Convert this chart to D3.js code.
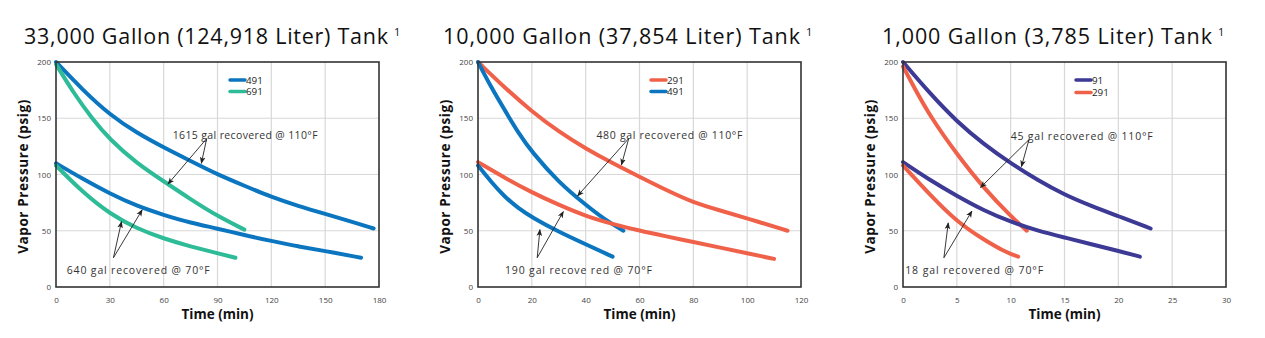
<!DOCTYPE html>
<html>
<head>
<meta charset="utf-8">
<script src="https://cdn.jsdelivr.net/npm/d3@7/dist/d3.min.js"></script>
<style>
  html, body { margin: 0; padding: 0; background: #fff; }
  svg { display: block; }
  text { font-family: "Open Sans", "Noto Sans", sans-serif; }
</style>
</head>
<body>
<svg id="chart" width="1265" height="338"></svg>
<script>
// ---------- DATA ----------
const titles = ["33,000 Gallon (124,918 Liter) Tank", "10,000 Gallon (37,854 Liter) Tank", "1,000 Gallon (3,785 Liter) Tank"];
const xTicks1 = [0, 30, 60, 90, 120, 150, 180];
const xTicks2 = [0, 20, 40, 60, 80, 100, 120];
const xTicks3 = [0, 5, 10, 15, 20, 25, 30];
const yTicks = [0, 50, 100, 150, 200];

// 33,000 gallon tank [time (min), pressure (psig)]
const t33_491_hi = [[0,200],[15,175],[30,153],[45,137],[60,124],[75,112],[90,100],[105,90],[120,80],[135,72],[150,65],[165,58],[177,52]];
const t33_691_hi = [[0,198],[10,172],[20,150],[30,131],[45,110],[60,94],[75,78],[90,63],[105,51]];
const t33_491_lo = [[0,110],[15,96],[30,83],[45,72],[60,64],[75,57],[90,52],[105,46],[120,41],[135,36],[150,32],[170,26]];
const t33_691_lo = [[0,108],[15,84],[30,65],[45,52],[60,43],[75,36],[90,30],[100,26]];

// 10,000 gallon tank
const t10_291_hi = [[0,200],[10,177],[20,156],[30,138],[40,123],[50,110],[60,98],[70,86],[80,75],[90,68],[100,61],[115,50]];
const t10_491_hi = [[0,200],[5,177],[10,157],[15,137],[20,120],[30,93],[40,73],[47,60],[54,50]];
const t10_291_lo = [[0,111],[10,97],[20,84],[30,73],[40,63],[50,56],[60,50],[70,45],[80,40],[90,35],[100,30],[110,25]];
const t10_491_lo = [[0,108],[5,93],[10,80],[15,70],[20,62],[30,49],[40,38],[50,27]];

// 1,000 gallon tank
const t1_91_hi  = [[0,200],[2.5,172],[5,147],[7.5,127],[10,110],[12.5,95],[15,82],[17.5,72],[20,63],[23,52]];
const t1_291_hi = [[0,196],[1,178],[2.5,152],[5,118],[7.5,88],[10,63],[11.5,50]];
const t1_91_lo  = [[0,111],[2.5,95],[5,81],[7.5,68],[10,58],[12.5,50],[15,44],[17.5,38],[20,32],[22,27]];
const t1_291_lo = [[0,108],[2.5,82],[5,58],[7.5,42],[9.5,31],[10.7,27]];

const legend1 = ["491", "691"];
const legend2 = ["291", "491"];
const legend3 = ["91", "291"];

const notes1 = ["1615 gal recovered @ 110°F", "640 gal recovered @ 70°F"];
const notes2 = ["480 gal recovered @ 110°F", "190 gal recove red @ 70°F"];
const notes3 = ["45 gal recovered @ 110°F", "18 gal recovered @ 70°F"];

// ---------- STYLE ----------
const C = { blue: "#0b76bf", green: "#2dbb98", orange: "#f0614a", navy: "#3c3a94" };

const panels = [
  { title: titles[0], xMax: 180, xTicks: xTicks1, left: 56, right: 379, titleX: 24, titleW: 364,
    series: [{d: t33_491_hi, c: C.blue}, {d: t33_691_hi, c: C.green}, {d: t33_491_lo, c: C.blue}, {d: t33_691_lo, c: C.green}],
    legend: [{n: legend1[0], c: C.blue}, {n: legend1[1], c: C.green}], legX: 230, legDy: 11.5,
    notes: [
      { text: notes1[0], w: 145, tx: 65, ty: 135, from: [84, 132], to: [[62.4, 91.5], [81, 110]] },
      { text: notes1[1], w: 143, tx: 6, ty: 15, from: [32, 26], to: [[36.5, 58], [48, 68.5]] }
    ] },
  { title: titles[1], xMax: 120, xTicks: xTicks2, left: 478, right: 801, titleX: 443, titleW: 357,
    series: [{d: t10_291_hi, c: C.orange}, {d: t10_491_hi, c: C.blue}, {d: t10_291_lo, c: C.orange}, {d: t10_491_lo, c: C.blue}],
    legend: [{n: legend2[0], c: C.orange}, {n: legend2[1], c: C.blue}], legX: 651, legDy: 11.5,
    notes: [
      { text: notes2[0], w: 146, tx: 44, ty: 135, from: [56, 132], to: [[37, 81], [53.3, 108.5]] },
      { text: notes2[1], w: 147, tx: 10, ty: 15, from: [22, 26], to: [[23, 51], [31.7, 67]] }
    ] },
  { title: titles[2], xMax: 30, xTicks: xTicks3, left: 903, right: 1226, titleX: 882, titleW: 330,
    series: [{d: t1_91_hi, c: C.navy}, {d: t1_291_hi, c: C.orange}, {d: t1_91_lo, c: C.navy}, {d: t1_291_lo, c: C.orange}],
    legend: [{n: legend3[0], c: C.navy}, {n: legend3[1], c: C.orange}], legX: 1076, legDy: 12.5,
    notes: [
      { text: notes3[0], w: 142, tx: 10, ty: 134, from: [11.7, 131], to: [[7.2, 88.5], [11, 107]] },
      { text: notes3[1], w: 138, tx: 0.2, ty: 15, from: [3.8, 26], to: [[4.2, 57], [6.4, 67.5]] }
    ] }
];

const svg = d3.select("#chart");
const defs = svg.append("defs");
defs.append("marker").attr("id", "arrow").attr("viewBox", "0 0 10 10")
  .attr("refX", 9).attr("refY", 5).attr("markerWidth", 7).attr("markerHeight", 7)
  .attr("markerUnits", "userSpaceOnUse").attr("orient", "auto")
  .append("path").attr("d", "M0,1 L10,5 L0,9 L2.5,5 Z").attr("fill", "#222");

const plotTop = 62, plotBottom = 287;

panels.forEach(p => {
  const x = d3.scaleLinear().domain([0, p.xMax]).range([p.left, p.right]);
  const y = d3.scaleLinear().domain([0, 200]).range([plotBottom, plotTop]);
  const g = svg.append("g");

  // title
  g.append("text").attr("x", p.titleX).attr("y", 44)
    .attr("font-size", 21.5).attr("fill", "#111")
    .attr("textLength", p.titleW).attr("lengthAdjust", "spacing").text(p.title);
  g.append("text").attr("x", p.titleX + p.titleW + 6).attr("y", 36)
    .attr("font-size", 11).attr("fill", "#111").text("1");

  // grid
  g.append("g").selectAll("line").data(p.xTicks.slice(1, -1)).join("line")
    .attr("x1", d => x(d)).attr("x2", d => x(d)).attr("y1", plotTop).attr("y2", plotBottom)
    .attr("stroke", "#d8d8d8").attr("stroke-width", 1.2);
  g.append("g").selectAll("line").data(yTicks.slice(1, -1)).join("line")
    .attr("x1", p.left).attr("x2", p.right).attr("y1", d => y(d)).attr("y2", d => y(d))
    .attr("stroke", "#d8d8d8").attr("stroke-width", 1.2);

  // axes (tick labels)
  const xa = g.append("g").attr("transform", `translate(0,${plotBottom})`)
    .call(d3.axisBottom(x).tickValues(p.xTicks).tickSize(0).tickPadding(10));
  const ya = g.append("g").attr("transform", `translate(${p.left},0)`)
    .call(d3.axisLeft(y).tickValues(yTicks).tickSize(0).tickPadding(5));
  [xa, ya].forEach(a => {
    a.select(".domain").remove();
    a.selectAll("text").attr("font-size", 8).attr("fill", "#444")
      .attr("font-family", "'Open Sans', 'Noto Sans', sans-serif");
  });

  // series
  const line = d3.line().x(d => x(d[0])).y(d => y(d[1])).curve(d3.curveBasis);
  p.series.forEach(s => {
    g.append("path").datum(s.d).attr("d", line).attr("fill", "none")
      .attr("stroke", s.c).attr("stroke-width", 4).attr("stroke-linecap", "round");
  });

  // frame
  g.append("rect").attr("x", p.left).attr("y", plotTop)
    .attr("width", p.right - p.left).attr("height", plotBottom - plotTop)
    .attr("fill", "none").attr("stroke", "#333").attr("stroke-width", 1.6);

  // legend
  p.legend.forEach((l, i) => {
    const ly = 80 + i * p.legDy;
    g.append("line").attr("x1", p.legX).attr("x2", p.legX + 15).attr("y1", ly).attr("y2", ly)
      .attr("stroke", l.c).attr("stroke-width", 3.5).attr("stroke-linecap", "round");
    g.append("text").attr("x", p.legX + 16).attr("y", ly + 3.5)
      .attr("font-size", 9.8).attr("font-family", "Roboto, 'Open Sans', sans-serif")
      .attr("fill", "#222").text(l.n);
  });

  // annotations
  p.notes.forEach(n => {
    g.append("text").attr("x", x(n.tx)).attr("y", y(n.ty) + 4)
      .attr("font-size", 10.5).attr("fill", "#333")
      .attr("textLength", n.w).attr("lengthAdjust", "spacing").text(n.text);
    n.to.forEach(tp => {
      g.append("line").attr("x1", x(n.from[0])).attr("y1", y(n.from[1]))
        .attr("x2", x(tp[0])).attr("y2", y(tp[1]))
        .attr("stroke", "#222").attr("stroke-width", 0.9).attr("marker-end", "url(#arrow)");
    });
  });

  // axis titles
  g.append("text").attr("x", (p.left + p.right) / 2).attr("y", 319).attr("text-anchor", "middle")
    .attr("font-size", 13.5).attr("font-weight", "bold").attr("fill", "#111").text("Time (min)");
  g.append("text").attr("transform", `translate(${p.left - 28},${(plotTop + plotBottom) / 2 + 2}) rotate(-90)`)
    .attr("text-anchor", "middle").attr("font-size", 13.5).attr("font-weight", "bold")
    .attr("letter-spacing", 0.6).attr("fill", "#111").text("Vapor Pressure (psig)");
});
</script>
</body>
</html>
